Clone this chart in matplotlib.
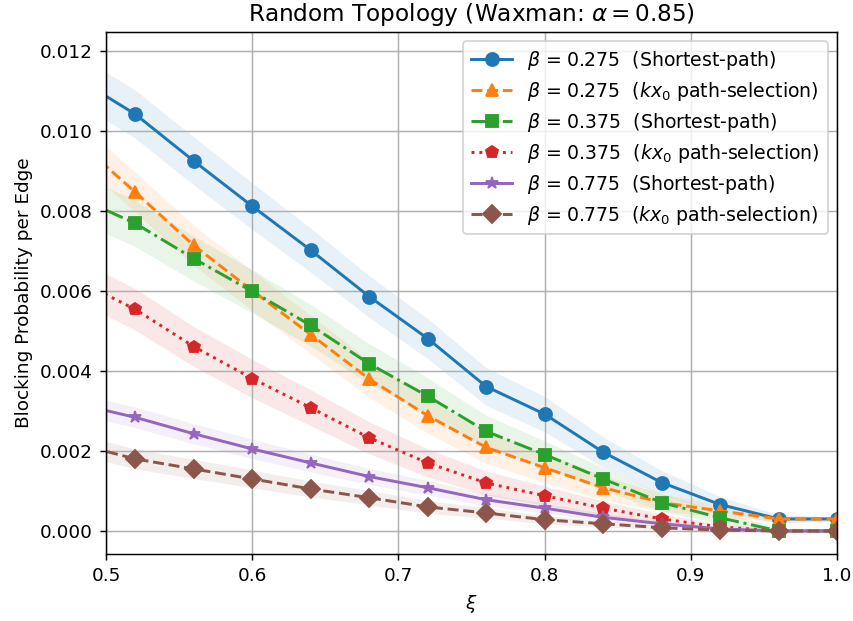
import numpy as np
import matplotlib
matplotlib.use('Agg')
import matplotlib.pyplot as plt

# xi values (first point sits just left of the visible range)
xi = [0.48, 0.52, 0.56, 0.60, 0.64, 0.68, 0.72, 0.76, 0.80, 0.84, 0.88, 0.92, 0.96, 1.00]

# mean blocking probability per edge
sp_0275 = [0.01132, 0.01042, 0.00925, 0.00812, 0.00702, 0.00586, 0.00481, 0.00361,
           0.00292, 0.00197, 0.00121, 0.00066, 0.00030, 0.00030]
kx_0275 = [0.00977, 0.00847, 0.00714, 0.00601, 0.00491, 0.00380, 0.00288, 0.00209,
           0.00158, 0.00108, 0.00071, 0.00050, 0.00030, 0.00030]
sp_0375 = [0.00835, 0.00769, 0.00681, 0.00599, 0.00514, 0.00418, 0.00337, 0.00249,
           0.00191, 0.00130, 0.00071, 0.00033, 0.00000, 0.00000]
kx_0375 = [0.00628, 0.00554, 0.00461, 0.00381, 0.00308, 0.00233, 0.00170, 0.00120,
           0.00088, 0.00057, 0.00030, 0.00010, 0.00000, 0.00000]
sp_0775 = [0.00318, 0.00284, 0.00243, 0.00205, 0.00170, 0.00136, 0.00108, 0.00078,
           0.00057, 0.00034, 0.00018, 0.00005, 0.00000, 0.00000]
kx_0775 = [0.00218, 0.00180, 0.00155, 0.00130, 0.00105, 0.00083, 0.00060, 0.00045,
           0.00028, 0.00018, 0.00008, 0.00002, 0.00000, 0.00000]

# half width of the shaded spread
err_sp_0275 = [0.00060, 0.00060, 0.00060, 0.00058, 0.00055, 0.00052, 0.00050, 0.00047,
               0.00044, 0.00038, 0.00030, 0.00020, 0.00010, 0.00005]
err_kx_0275 = [0.00050, 0.00050, 0.00050, 0.00050, 0.00048, 0.00046, 0.00044, 0.00040,
               0.00037, 0.00030, 0.00022, 0.00015, 0.00008, 0.00005]
err_sp_0375 = [0.00058, 0.00058, 0.00056, 0.00054, 0.00052, 0.00050, 0.00046, 0.00040,
               0.00034, 0.00028, 0.00022, 0.00015, 0.00008, 0.00005]
err_kx_0375 = [0.00052, 0.00052, 0.00050, 0.00048, 0.00045, 0.00040, 0.00035, 0.00030,
               0.00024, 0.00018, 0.00012, 0.00008, 0.00004, 0.00002]
err_sp_0775 = [0.00026, 0.00026, 0.00025, 0.00024, 0.00022, 0.00020, 0.00018, 0.00015,
               0.00012, 0.00010, 0.00007, 0.00004, 0.00002, 0.00001]
err_kx_0775 = [0.00025, 0.00025, 0.00024, 0.00022, 0.00020, 0.00018, 0.00016, 0.00013,
               0.00010, 0.00008, 0.00005, 0.00003, 0.00002, 0.00001]

labels = [r'$\beta$ = 0.275  (Shortest-path)',
          r'$\beta$ = 0.275  ($kx_0$ path-selection)',
          r'$\beta$ = 0.375  (Shortest-path)',
          r'$\beta$ = 0.375  ($kx_0$ path-selection)',
          r'$\beta$ = 0.775  (Shortest-path)',
          r'$\beta$ = 0.775  ($kx_0$ path-selection)']

series = [sp_0275, kx_0275, sp_0375, kx_0375, sp_0775, kx_0775]
errors = [err_sp_0275, err_kx_0275, err_sp_0375, err_kx_0375, err_sp_0775, err_kx_0775]
colors = ['tab:blue', 'tab:orange', 'tab:green', 'tab:red', 'tab:purple', 'tab:brown']
styles = ['-', '--', '-.', ':', '-', '--']
markers = ['o', '^', 's', 'p', '*', 'D']
msizes = [7, 7, 7, 7, 7, 7]

fig = plt.figure(figsize=(6.4, 4.66), dpi=133.3)
ax = fig.add_axes([0.1243, 0.1079, 0.8569, 0.8406])

x = np.array(xi)
for y, e, c, ls, m, ms, lab in zip(series, errors, colors, styles, markers, msizes, labels):
    y = np.array(y)
    e = np.array(e)
    ax.fill_between(x, y - e, y + e, color=c, alpha=0.1, linewidth=0)
    ax.plot(x, y, color=c, linestyle=ls, marker=m, markersize=ms, linewidth=1.6, label=lab)

ax.set_xlim(0.5, 1.0)
ax.set_ylim(-0.000576, 0.01248)
ax.set_yticks(np.arange(0, 0.0121, 0.002))
ax.set_yticklabels([f'{v:.3f}' for v in np.arange(0, 0.0121, 0.002)])
ax.grid(True)
ax.set_xlabel(r'$\xi$')
ax.set_ylabel('Blocking Probability per Edge')
ax.set_title(r'Random Topology (Waxman: $\alpha = 0.85$)', fontsize=12.5)
ax.legend(loc='upper right', fontsize=10.2, labelspacing=0.42, handlelength=2.2)

fig.savefig('out.png', dpi=133.3)
